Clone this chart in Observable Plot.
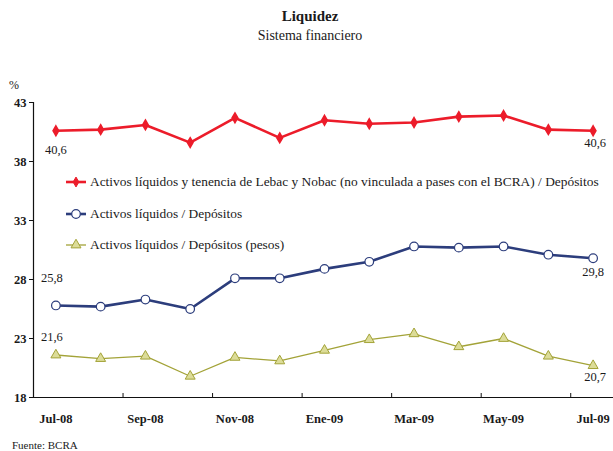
<!DOCTYPE html>
<html>
<head>
<meta charset="utf-8">
<script src="https://cdn.jsdelivr.net/npm/d3@7"></script>
<script src="https://cdn.jsdelivr.net/npm/@observablehq/plot@0.6"></script>
<style>
  html, body { margin: 0; padding: 0; background: #fff; }
  #wrap { position: relative; width: 613px; height: 451px; font-family: "Liberation Serif", "DejaVu Serif", serif; color: #1a1a1a; overflow: hidden; }
  .title { position: absolute; left: 0; width: 620px; text-align: center; }
  #t1 { top: 8px; font-size: 15px; font-weight: bold; }
  #t2 { top: 28px; font-size: 14px; }
  #unit { position: absolute; left: 9px; top: 78px; font-size: 12px; }
  #chart { position: absolute; left: 0; top: 50px; }
  #source { position: absolute; left: 12px; top: 439px; font-size: 11px; }
  .leg { position: absolute; left: 65px; height: 16px; display: flex; align-items: center; font-size: 13.4px; white-space: nowrap; }
  .leg svg { margin-right: 3px; }
</style>
</head>
<body>
<div id="wrap">
  <div class="title" id="t1">Liquidez</div>
  <div class="title" id="t2">Sistema financiero</div>
  <div id="unit">%</div>
  <div id="chart"></div>
  <div id="legend"></div>
  <div id="source">Fuente: BCRA</div>
</div>
<script>
// Monthly series, July 2008 – July 2009
const months = ["Jul-08", "Ago-08", "Sep-08", "Oct-08", "Nov-08", "Dic-08", "Ene-09",
                "Feb-09", "Mar-09", "Abr-09", "May-09", "Jun-09", "Jul-09"];
const lebacNobac = [40.6, 40.7, 41.1, 39.6, 41.7, 40.0, 41.5, 41.2, 41.3, 41.8, 41.9, 40.7, 40.6];
const depositos  = [25.8, 25.7, 26.3, 25.5, 28.1, 28.1, 28.9, 29.5, 30.8, 30.7, 30.8, 30.1, 29.8];
const pesos      = [21.6, 21.3, 21.5, 19.8, 21.4, 21.1, 22.0, 22.9, 23.4, 22.3, 23.0, 21.5, 20.7];
const yTicks = [18, 23, 28, 33, 38, 43];
const seriesNames = [
  "Activos líquidos y tenencia de Lebac y Nobac (no vinculada a pases con el BCRA) / Depósitos",
  "Activos líquidos / Depósitos",
  "Activos líquidos / Depósitos (pesos)"
];

const RED = "#ec1c2a", NAVY = "#2c3d7c", OLIVE = "#a3a338", OLIVE_FILL = "#dcdc98";
const R_DIAMOND = 3.0, R_CIRCLE = 4.3, R_TRIANGLE = 3.7;

const W = 613, H = 380, mTop = 52, mBottom = 33, mLeft = 33;
const plotH = H - mTop - mBottom;

const rows = arr => arr.map((v, i) => ({i, v}));
const last = months.length - 1;
const xLabelIdx = months.map((_, i) => i).filter(i => i % 2 === 0);
const xBoundaries = months.map((_, i) => i + 0.5).filter((d, i) => i % 2 === 1 && d < last);
const fmt = v => v.toFixed(1).replace(".", ",");
const ends = arr => [{i: 0, v: arr[0]}, {i: last, v: arr[last]}];

const yMin = yTicks[0], yMax = yTicks[yTicks.length - 1];

const chart = Plot.plot({
  width: W,
  height: H,
  marginTop: mTop,
  marginBottom: mBottom,
  marginLeft: mLeft,
  marginRight: 0,
  style: {fontFamily: "Liberation Serif, DejaVu Serif, serif", fontSize: "12px", color: "#1a1a1a", background: "transparent"},
  x: {type: "linear", domain: [-0.5, last + 0.5], range: [mLeft, 615], axis: null, label: null},
  y: {domain: [yMin, yMax], axis: null, label: null},
  marks: [
    // axes
    Plot.ruleY([yMin], {stroke: "#111", strokeWidth: 1.2}),
    Plot.ruleX([-0.5], {stroke: "#111", strokeWidth: 1.2}),
    Plot.axisY({ticks: yTicks, tickSize: 4, tickPadding: 3, tickFormat: d => d, label: null, fontWeight: "bold", fontSize: 12.5, stroke: "#111"}),
    Plot.axisX({ticks: xLabelIdx, tickSize: 0, tickPadding: 17, tickFormat: i => months[i], label: null, fontWeight: "bold", fontSize: 12.5}),
    Plot.tickX(xBoundaries, {x: d => d, insetTop: plotH - 4, stroke: "#111"}),

    // Activos líquidos / Depósitos (pesos)
    Plot.line(rows(pesos), {x: "i", y: "v", stroke: OLIVE, strokeWidth: 1.3}),
    Plot.dot(rows(pesos), {x: "i", y: "v", symbol: "triangle", r: R_TRIANGLE, fill: OLIVE_FILL, stroke: OLIVE, strokeWidth: 1}),

    // Activos líquidos / Depósitos
    Plot.line(rows(depositos), {x: "i", y: "v", stroke: NAVY, strokeWidth: 2.6}),
    Plot.dot(rows(depositos), {x: "i", y: "v", r: R_CIRCLE, fill: "#fff", stroke: NAVY, strokeWidth: 1.2}),

    // Activos líquidos + Lebac/Nobac
    Plot.line(rows(lebacNobac), {x: "i", y: "v", stroke: RED, strokeWidth: 2.6}),
    Plot.dot(rows(lebacNobac), {x: "i", y: "v", symbol: "diamond", r: R_DIAMOND, fill: RED, stroke: RED}),

    // end values
    Plot.text(ends(lebacNobac).slice(0, 1), {x: "i", y: "v", text: d => fmt(d.v), dy: 19, fill: "#1a1a1a", fontSize: 12.5}),
    Plot.text(ends(lebacNobac).slice(1), {x: "i", y: "v", text: d => fmt(d.v), dx: 2, dy: 12, fill: "#1a1a1a", fontSize: 12.5}),
    Plot.text(ends(depositos).slice(0, 1), {x: "i", y: "v", text: d => fmt(d.v), dx: -4, dy: -27, fill: "#1a1a1a", fontSize: 12.5}),
    Plot.text(ends(depositos).slice(1), {x: "i", y: "v", text: d => fmt(d.v), dy: 14, fill: "#1a1a1a", fontSize: 12.5}),
    Plot.text(ends(pesos).slice(0, 1), {x: "i", y: "v", text: d => fmt(d.v), dx: -4, dy: -18, fill: "#1a1a1a", fontSize: 12.5}),
    Plot.text(ends(pesos).slice(1), {x: "i", y: "v", text: d => fmt(d.v), dx: 2, dy: 11, fill: "#1a1a1a", fontSize: 12.5})
  ]
});
document.getElementById("chart").append(chart);

// Legend drawn inside the plot area
const swatches = [
  `<line x1="1" y1="6" x2="21" y2="6" stroke="${RED}" stroke-width="2.6"/><path d="${d3.symbol(d3.symbolDiamond, Math.PI * R_DIAMOND * R_DIAMOND)()}" transform="translate(11,6)" fill="${RED}" stroke="${RED}"/>`,
  `<line x1="1" y1="6" x2="21" y2="6" stroke="${NAVY}" stroke-width="2.6"/><circle cx="11" cy="6" r="${R_CIRCLE}" fill="#fff" stroke="${NAVY}" stroke-width="1.2"/>`,
  `<line x1="1" y1="6" x2="21" y2="6" stroke="${OLIVE}" stroke-width="1.3"/><path d="${d3.symbol(d3.symbolTriangle, Math.PI * R_TRIANGLE * R_TRIANGLE)()}" transform="translate(11,6)" fill="${OLIVE_FILL}" stroke="${OLIVE}"/>`
];
const legendTops = [174, 206, 237];
const legend = document.getElementById("legend");
seriesNames.forEach((name, k) => {
  const div = document.createElement("div");
  div.className = "leg";
  div.style.top = legendTops[k] + "px";
  div.innerHTML = `<svg width="22" height="12">${swatches[k]}</svg><span>${name}</span>`;
  legend.append(div);
});
</script>
</body>
</html>
